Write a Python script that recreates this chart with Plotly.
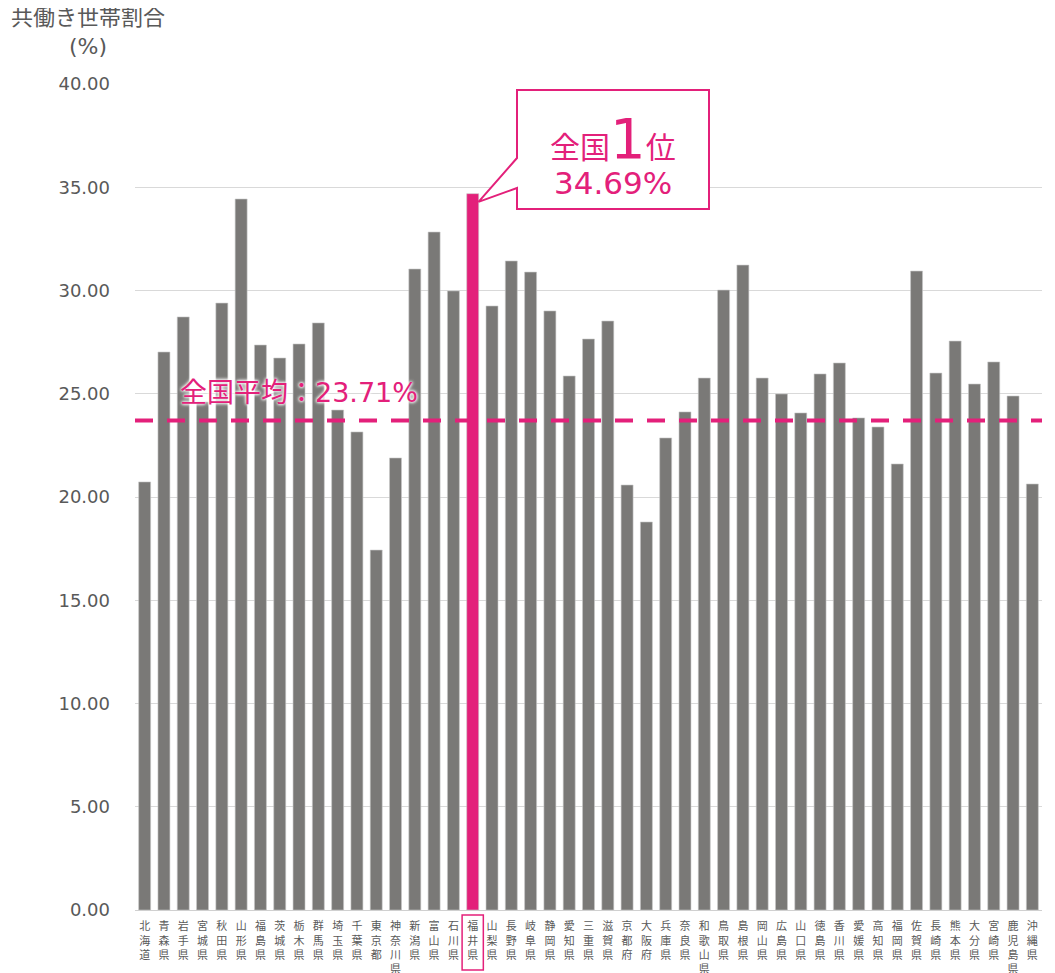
import plotly.graph_objects as go

prefectures = ["北海道", "青森県", "岩手県", "宮城県", "秋田県", "山形県", "福島県", "茨城県", "栃木県", "群馬県",
               "埼玉県", "千葉県", "東京都", "神奈川県", "新潟県", "富山県", "石川県", "福井県", "山梨県", "長野県",
               "岐阜県", "静岡県", "愛知県", "三重県", "滋賀県", "京都府", "大阪府", "兵庫県", "奈良県", "和歌山県",
               "鳥取県", "島根県", "岡山県", "広島県", "山口県", "徳島県", "香川県", "愛媛県", "高知県", "福岡県",
               "佐賀県", "長崎県", "熊本県", "大分県", "宮崎県", "鹿児島県", "沖縄県"]
rates = [20.73, 27.02, 28.72, 24.60, 29.39, 34.43, 27.36, 26.73, 27.41, 28.43,
         24.21, 23.15, 17.43, 21.89, 31.04, 32.83, 29.98, 34.69, 29.25, 31.43,
         30.89, 29.01, 25.86, 27.65, 28.52, 20.58, 18.79, 22.86, 24.12, 25.76,
         30.02, 31.23, 25.76, 24.99, 24.07, 25.96, 26.49, 23.83, 23.39, 21.60,
         30.94, 26.00, 27.55, 25.47, 26.54, 24.89, 20.63]
national_avg = 23.71
highlight = "福井県"
rank = 1
y_ticks = [0, 5, 10, 15, 20, 25, 30, 35, 40]

GRAY = "#7a7977"
PINK = "#e3207a"
TXT = "#595959"
FONT = "DejaVu Sans, Noto Sans CJK JP, sans-serif"

hi_idx = prefectures.index(highlight)
hi_val = rates[hi_idx]
n = len(prefectures)
colors = [PINK if p == highlight else GRAY for p in prefectures]
tick_text = ["<br>".join(list(p)) for p in prefectures]

fig = go.Figure()
fig.add_trace(go.Bar(
    x=prefectures, y=rates, marker=dict(color=colors, line=dict(color="#c8c8c8", width=0.6)),
    width=0.62, hoverinfo="x+y", showlegend=False,
))

# the page body adds an 8px offset; compensate so screen positions match
OFF = 8
W, H = 1055 - OFF, 973 - OFF
# desired plot area in screen pixels
SL, SR, ST, SB = 135, 1042, 84, 910
L, R, T, B = SL - OFF, W - (SR - OFF), ST - OFF, H - (SB - OFF)
ymax = 40

def px_x(sx):
    return (sx - SL) / (SR - SL)

def px_y(sy):
    return (SB - sy) / (SB - ST)

# national average dashed line
fig.add_shape(type="line", xref="paper", yref="y", x0=0, x1=1, y0=national_avg, y1=national_avg,
              line=dict(color=PINK, width=4, dash="18px,14px"), layer="above")

fig.add_annotation(xref="paper", yref="y", x=px_x(178), y=25.05, xanchor="left", yanchor="middle",
                   text=f"全国平均：{national_avg:.2f}%", showarrow=False,
                   font=dict(family=FONT, size=27, color=PINK,
                             shadow="0 0 3px white, 0 0 3px white, 0 0 4px white"))

# callout box with pointer
bx0, bx1 = px_x(517), px_x(709)
by1, by0 = px_y(90), px_y(209)
ay1, ay0 = px_y(158), px_y(188)
tip_x = (hi_idx + 0.5 + 0.3) / n
tip_y = (hi_val - 0.4) / ymax
path = (f"M {bx0},{by1} L {bx1},{by1} L {bx1},{by0} L {bx0},{by0} L {bx0},{ay0} "
        f"L {tip_x},{tip_y} L {bx0},{ay1} Z")
fig.add_shape(type="path", xref="paper", yref="paper", path=path,
              fillcolor="white", line=dict(color=PINK, width=2), layer="above")

cx = (bx0 + bx1) / 2
fig.add_annotation(xref="paper", yref="paper", x=cx, y=px_y(138), xanchor="center", yanchor="middle",
                   text=f"全国<span style='font-size:56px'>{rank}</span>位", showarrow=False,
                   font=dict(family=FONT, size=30, color=PINK))
fig.add_annotation(xref="paper", yref="paper", x=cx, y=px_y(183), xanchor="center", yanchor="middle",
                   text=f"{hi_val:.2f}%", showarrow=False,
                   font=dict(family=FONT, size=31, color=PINK))

# box around highlighted tick label
fig.add_shape(type="rect", xref="x", yref="paper", x0=hi_idx - 0.55, x1=hi_idx + 0.55,
              y0=px_y(970), y1=px_y(915), line=dict(color=PINK, width=1.5), fillcolor="rgba(0,0,0,0)")

# y-axis title
fig.add_annotation(xref="paper", yref="paper", x=px_x(88), y=px_y(3), xanchor="center", yanchor="top",
                   text="共働き世帯割合<br>(%)", showarrow=False, align="center",
                   font=dict(family=FONT, size=22, color=TXT))

fig.update_layout(
    width=W, height=H, margin=dict(l=L, r=R, t=T, b=B, autoexpand=False),
    plot_bgcolor="white", paper_bgcolor="white",
    font=dict(family=FONT, color=TXT),
    xaxis=dict(tickmode="array", tickvals=prefectures, ticktext=tick_text, automargin=False,
               tickfont=dict(size=11, color=TXT), showline=True, linecolor="#d0d0d0", linewidth=1,
               ticks="", showgrid=False, range=[-0.5, n - 0.5], fixedrange=True, ticklabelstandoff=6),
    yaxis=dict(range=[0, ymax], tickvals=y_ticks, tickformat=".2f", showgrid=True, gridcolor="#d9d9d9",
               gridwidth=1, zeroline=False, showline=False, ticks="", ticklabelstandoff=24, automargin=False,
               tickfont=dict(size=18, color=TXT), fixedrange=True),
    bargap=0.38,
)

fig.write_html("out.html")
